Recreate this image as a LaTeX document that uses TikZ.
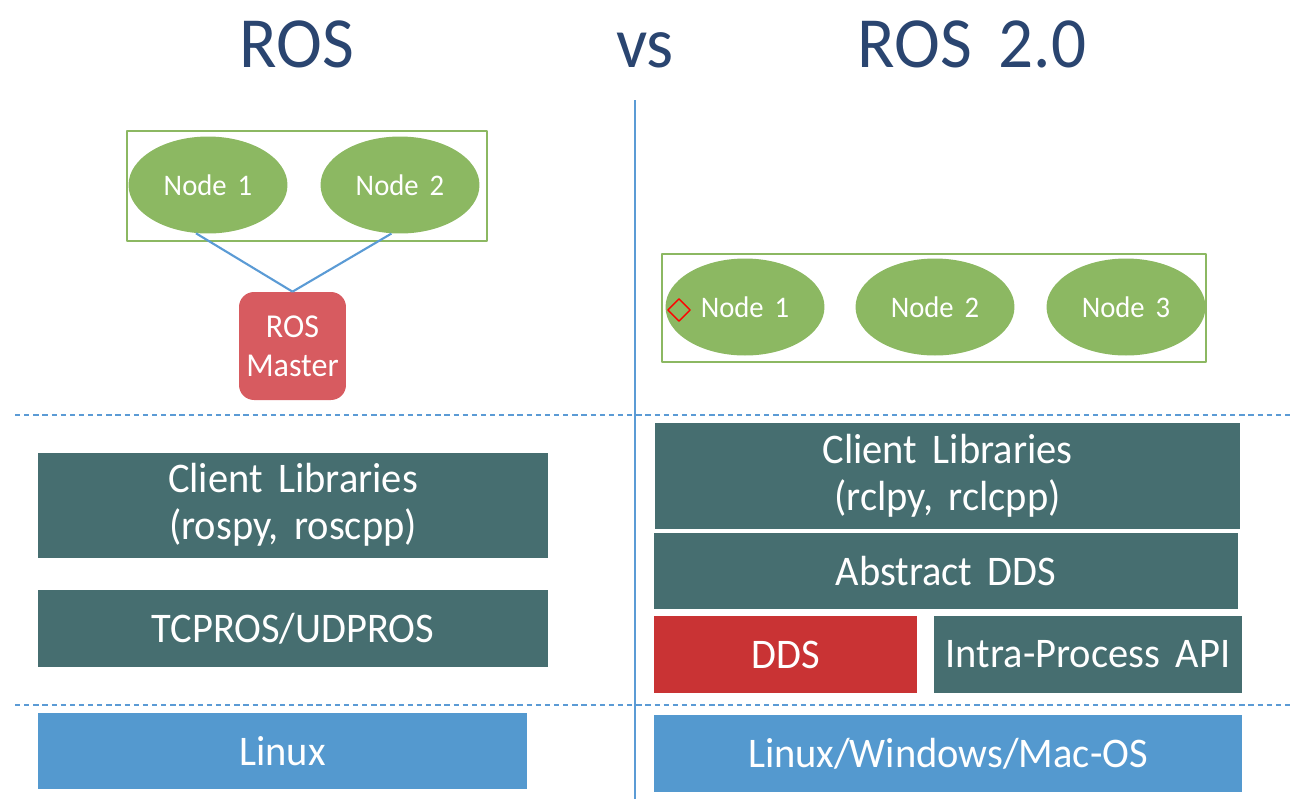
\documentclass[tikz,border=0pt]{standalone}
\usepackage{fontspec}
\setmainfont[FakeStretch=0.96,WordSpace=1.7]{Carlito}
\usetikzlibrary{shapes.geometric}
\definecolor{nodegreen}{RGB}{140,184,98}
\definecolor{layerteal}{RGB}{70,110,112}
\definecolor{oslayer}{RGB}{84,153,207}
\definecolor{masterred}{RGB}{215,91,96}
\definecolor{ddsred}{RGB}{201,51,52}
\definecolor{titleblue}{RGB}{42,69,112}
\definecolor{rulerblue}{RGB}{91,155,213}
\begin{document}
\begin{tikzpicture}[x=0.02cm,y=-0.02cm,line join=round,
  title/.style={anchor=base,text=titleblue,font=\fontsize{41}{45}\selectfont},
  rosnode/.style={ellipse,fill=nodegreen,text=white,inner sep=0pt,minimum width=3.18cm,minimum height=1.94cm,font=\fontsize{17}{20}\selectfont},
  group/.style={draw=nodegreen,line width=1.2pt,inner sep=0pt},
  layer/.style={fill=#1,text=white,inner sep=0pt,align=center,font=\fontsize{24}{27}\selectfont},
  link/.style={draw=rulerblue,line width=1.2pt},
  divider/.style={draw=rulerblue,line width=1.4pt,dash pattern=on 3pt off 2.2pt}]
\useasboundingbox (0,0) rectangle (1292,799);
% titles
\node[title] (rosold) at (297,67) {ROS};
\node[title] (versus) at (645,67) {vs};
\node[title] (rosnew) at (972,67) {ROS 2.0};
% dividers
\coordinate (vtop) at (635,100);
\coordinate (vbot) at (635,799);
\draw[link] (vtop) -- (vbot);
\coordinate (d1l) at (15,415);
\coordinate (d1r) at (1292,415);
\coordinate (d2l) at (15,705);
\coordinate (d2r) at (1292,705);
\draw[divider] (d1l) -- (d1r);
\draw[divider] (d2l) -- (d2r);
% ROS
\node[group,minimum width=7.2cm,minimum height=2.2cm] (grpold) at (307,186) {};
\node[rosnode] (nodeA) at (208,185) {Node 1};
\node[rosnode] (nodeB) at (400,185) {Node 2};
\node[fill=masterred,text=white,rounded corners=0.3cm,align=center,inner sep=0pt,
  minimum width=2.14cm,minimum height=2.16cm,font=\fontsize{19}{22}\selectfont] (master) at (292.5,346) {ROS\\Master};
\draw[link] (nodeA.256) -- (master.north);
\draw[link] (nodeB.260) -- (master.north);
\node[layer=layerteal,minimum width=10.2cm,minimum height=2.1cm] (clientold) at (293,505) {Client Libraries\\(rospy, roscpp)};
\node[layer=layerteal,minimum width=10.2cm,minimum height=1.54cm] (tcpros) at (293,628.5) {TCPROS/UDPROS};
\node[layer=oslayer,minimum width=9.78cm,minimum height=1.52cm] (linuxold) at (282.5,751) {Linux};
% ROS 2.0
\node[group,minimum width=10.88cm,minimum height=2.16cm] (grpnew) at (934,308) {};
\node[rosnode] (node1) at (745,307) {Node 1};
\node[rosnode] (node2) at (935,307) {Node 2};
\node[rosnode] (node3) at (1126,307) {Node 3};
\node[diamond,draw=red,line width=0.8pt,inner sep=0pt,minimum size=0.46cm] (select) at (679,310) {};
\node[layer=layerteal,minimum width=11.7cm,minimum height=2.12cm] (clientnew) at (947.5,476) {Client Libraries\\(rclpy, rclcpp)};
\node[layer=layerteal,minimum width=11.68cm,minimum height=1.52cm] (absdds) at (946,571) {Abstract DDS};
\node[layer=ddsred,minimum width=5.26cm,minimum height=1.54cm] (dds) at (785.5,654.5) {DDS};
\node[layer=layerteal,minimum width=6.16cm,minimum height=1.54cm] (intra) at (1088,654.5) {Intra-Process API};
\node[layer=oslayer,minimum width=11.76cm,minimum height=1.54cm] (linuxnew) at (948,753.5) {Linux/Windows/Mac-OS};
\end{tikzpicture}
\end{document}
